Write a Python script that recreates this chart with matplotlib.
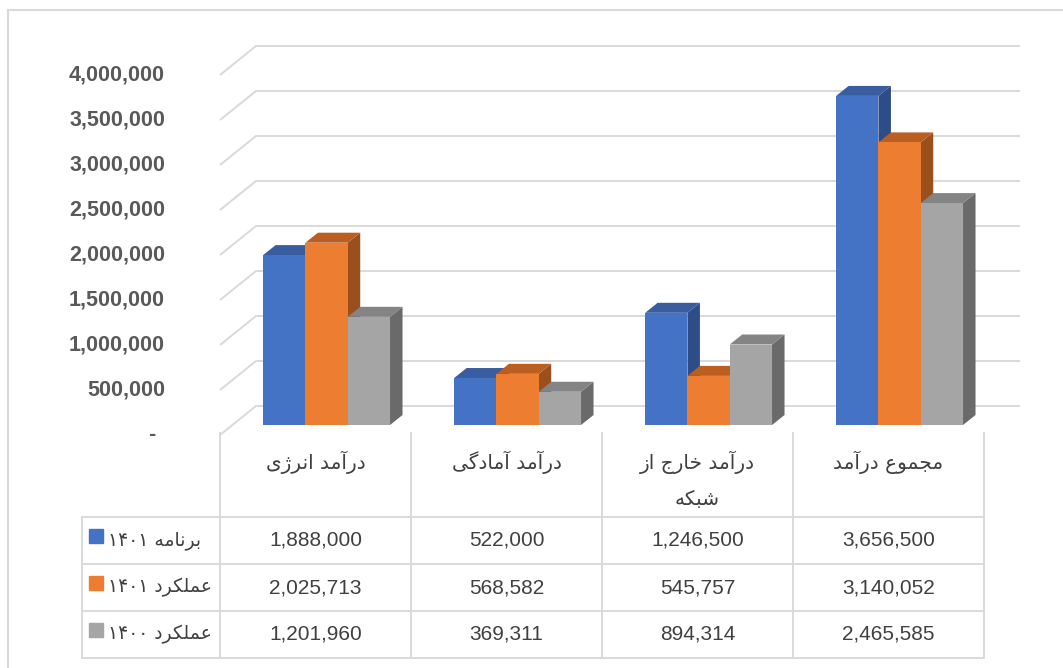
import re
import numpy as np
import matplotlib.pyplot as plt
from matplotlib.patches import Polygon, Rectangle

# data
categories = ["درآمد انرژی", "درآمد آمادگی", "درآمد خارج از\nشبکه", "مجموع درآمد"]
series_names = ["برنامه ۱۴۰۱", "عملکرد ۱۴۰۱", "عملکرد ۱۴۰۰"]
plan_1401 = [1888000, 522000, 1246500, 3656500]
actual_1401 = [2025713, 568582, 545757, 3140052]
actual_1400 = [1201960, 369311, 894314, 2465585]
yticks = np.arange(0, 4000001, 500000)

series = [plan_1401, actual_1401, actual_1400]
front = ["#4472C4", "#ED7D31", "#A5A5A5"]
top = ["#3A5DA0", "#BA5E22", "#848484"]
side = ["#2E4C88", "#9B4F1C", "#6A6A6A"]
grid_c = "#D9D9D9"

# persian shaping (matplotlib has no bidi / joining)
FORMS = {
    "ا": ("\uFE8D", "\uFE8E", None, None), "آ": ("\uFE81", "\uFE82", None, None),
    "د": ("\uFEA9", "\uFEAA", None, None), "ر": ("\uFEAD", "\uFEAE", None, None),
    "ز": ("\uFEAF", "\uFEB0", None, None), "ژ": ("\uFB8A", "\uFB8B", None, None),
    "و": ("\uFEED", "\uFEEE", None, None),
    "ب": ("\uFE8F", "\uFE90", "\uFE91", "\uFE92"), "ج": ("\uFE9D", "\uFE9E", "\uFE9F", "\uFEA0"),
    "خ": ("\uFEA5", "\uFEA6", "\uFEA7", "\uFEA8"), "ش": ("\uFEB5", "\uFEB6", "\uFEB7", "\uFEB8"),
    "ع": ("\uFEC9", "\uFECA", "\uFECB", "\uFECC"), "ل": ("\uFEDD", "\uFEDE", "\uFEDF", "\uFEE0"),
    "م": ("\uFEE1", "\uFEE2", "\uFEE3", "\uFEE4"), "ن": ("\uFEE5", "\uFEE6", "\uFEE7", "\uFEE8"),
    "ه": ("\uFEE9", "\uFEEA", "\uFEEB", "\uFEEC"), "ک": ("\uFB8E", "\uFB8F", "\uFB90", "\uFB91"),
    "گ": ("\uFB92", "\uFB93", "\uFB94", "\uFB95"), "ی": ("\uFBFC", "\uFBFD", "\uFBFE", "\uFBFF"),
}


def fa(text):
    lines = []
    for line in text.split("\n"):
        out = []
        for k, c in enumerate(line):
            if c not in FORMS:
                out.append(c)
                continue
            prev = line[k - 1] if k > 0 else None
            nxt = line[k + 1] if k + 1 < len(line) else None
            jp = prev in FORMS and FORMS[prev][2] is not None
            jn = nxt in FORMS and FORMS[c][2] is not None
            iso, fin, ini, med = FORMS[c]
            out.append(med if jp and jn else fin if jp else ini if jn else iso)
        vis = "".join(reversed(out))
        vis = re.sub(r"[\u06F0-\u06F9]+", lambda m: m.group(0)[::-1], vis)
        lines.append(vis)
    return "\n".join(lines)


W, H = 1063, 668
fig = plt.figure(figsize=(W / 100, H / 100), dpi=100)
fig.patches.append(Rectangle((8 / W, -0.1), 1.2, (H - 10) / H + 0.1, transform=fig.transFigure,
                             fill=False, ec=grid_c, lw=1.5))

# chart area: 191 px per category, 45 px per 500,000
cat_px, val_px = 191.0, 45.0 / 500000
ax = fig.add_axes([220 / W, (H - 435) / H, 810 / W, 395 / H])
ax.set_xlim(-0.5, -0.5 + 810 / cat_px)
ax.set_ylim(0, 395 / val_px)
ax.axis("off")

DX, DY = 36 / cat_px, 29 / val_px      # wall depth
bdx, bdy = 12.5 / cat_px, 10 / val_px  # bar depth
f0 = 10 / 29                           # bars front sit this far into the floor
x0, x1 = -0.5, 3.5

for v in yticks:
    ax.plot([x0, x0 + DX, x1 + DX], [v, v + DY, v + DY], color=grid_c, lw=1.4, zorder=1,
            clip_on=False, solid_capstyle="butt")
    lbl = "-" if v == 0 else f"{v:,.0f}"
    ax.annotate(lbl, xy=(x0, v), xytext=(-55 if v else -65, 0), textcoords="offset pixels",
                ha="right", va="center", fontsize=15.5, fontweight="bold", color="#595959",
                family=["Liberation Sans", "DejaVu Sans"], annotation_clip=False)

w = 42.3 / cat_px
base = f0 * DY
for i in range(len(categories)):
    cx = i + f0 * DX - 0.007
    for j, vals in enumerate(series):
        xl = cx - 1.5 * w + j * w
        xr = xl + w
        yt = base + vals[i]
        z = 2 + j
        ax.add_patch(Polygon([(xr, base), (xr + bdx, base + bdy), (xr + bdx, yt + bdy), (xr, yt)],
                             closed=True, fc=side[j], ec="none", zorder=z, clip_on=False))
        ax.add_patch(Polygon([(xl, yt), (xr, yt), (xr + bdx, yt + bdy), (xl + bdx, yt + bdy)],
                             closed=True, fc=top[j], ec="none", zorder=z, clip_on=False))
        ax.add_patch(Rectangle((xl, base), w, vals[i], fc=front[j], ec="none", zorder=z,
                               clip_on=False))

# data table
hh = 84 / 47
tx0 = -0.5 - 138 / cat_px
tax = fig.add_axes([82 / W, (H - 658) / H, (984 - 82) / W, 225 / H])
tax.set_xlim(tx0, 3.5)
tax.set_ylim(0, 3 + hh)
tax.axis("off")
for y in range(4):
    tax.plot([tx0, 3.5], [y, y], color=grid_c, lw=1.4, clip_on=False)
tax.plot([tx0, tx0], [0, 3], color=grid_c, lw=1.4, clip_on=False)
for x in np.arange(-0.5, 3.6, 1.0):
    tax.plot([x, x], [0, 3 + hh], color=grid_c, lw=1.4, clip_on=False)

for i, name in enumerate(categories):
    for k, line in enumerate(name.split("\n")):
        tax.text(i, 3 + hh - 0.63 - k * 0.78, fa(line), ha="center", va="center",
                 fontsize=14.5, color="#404040", family="DejaVu Sans")

for j, vals in enumerate(series):
    yc = 2.5 - j
    tax.plot(tx0 + 14 / cat_px, yc + 0.09, marker="s", ms=10.5, color=front[j], clip_on=False)
    tax.text(tx0 + 26 / cat_px, yc, fa(series_names[j]), ha="left", va="center",
             fontsize=13.5, color="#404040", family="DejaVu Sans")
    for i, v in enumerate(vals):
        tax.text(i, yc, f"{v:,.0f}", ha="center", va="center", fontsize=15,
                 color="#404040", family="Liberation Sans")

fig.savefig("out.png", dpi=100)
